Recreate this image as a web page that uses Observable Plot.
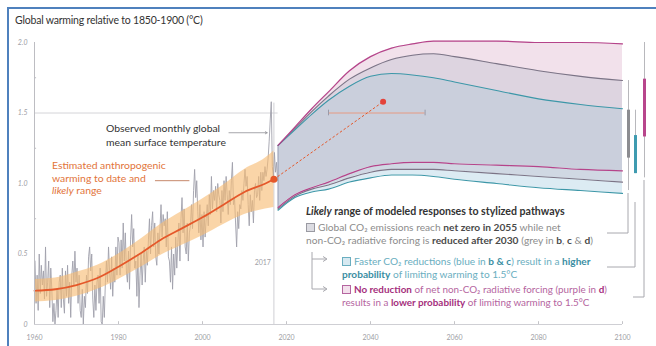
<!DOCTYPE html>
<html><head><meta charset="utf-8">
<script src="https://cdn.jsdelivr.net/npm/d3@7"></script>
<script src="https://cdn.jsdelivr.net/npm/@observablehq/plot@0.6"></script>
<style>
html,body{margin:0;padding:0;background:#fff;}
#wrap{position:relative;width:656px;height:346px;overflow:hidden;font-family:Lato,"Open Sans",sans-serif;}
#chart svg{position:absolute;left:0;top:0;}
#deco{position:absolute;left:0;top:0;}
.frame-top{position:absolute;left:7px;top:7px;width:649px;height:2px;background:#4f81bd;}
.frame-left{position:absolute;left:7px;top:7px;width:2px;height:339px;background:#4f81bd;}
.t{position:absolute;white-space:nowrap;}
.box{display:inline-block;width:7px;height:7px;margin-right:3px;vertical-align:-0.5px;}
</style></head><body>
<div id="wrap">
  <div id="chart"></div>
  <svg id="deco" width="656" height="346"></svg>
  <div class="frame-top"></div><div class="frame-left"></div>
  <div class="t" id="title" style="left:15px;top:14px;font-size:10.5px;color:#333;letter-spacing:-0.2px;">Global warming relative to 1850-1900 (°C)</div>
  <div class="t" style="left:106px;top:121px;font-size:10.4px;line-height:14px;color:#333;">Observed monthly global<br>mean surface temperature</div>
  <div class="t" style="left:52px;top:159px;font-size:10.4px;line-height:12.5px;color:#e2743a;">Estimated anthropogenic<br>warming to date and<br><i>likely</i> range</div>
  <div class="t" style="left:306px;top:205px;font-size:10.6px;font-weight:bold;color:#333;"><i>Likely</i> range of modeled responses to stylized pathways</div>
  <div class="t" style="left:306px;top:221px;font-size:10.2px;line-height:13px;color:#8c8c8c;"><span class="box" style="background:#dcdce2;border:1px solid #9a9aa2;"></span>Global CO₂ emissions reach <b style="color:#4a4a4a">net zero in 2055</b> while net<br>non-CO₂ radiative forcing is <b style="color:#4a4a4a">reduced after 2030</b> (grey in <b style="color:#4a4a4a">b</b>, <b style="color:#4a4a4a">c</b> &amp; <b style="color:#4a4a4a">d</b>)</div>
  <div class="t" style="left:342px;top:255px;font-size:10.1px;line-height:13px;color:#6aaec0;"><span class="box" style="background:#d7e9f1;border:1px solid #6aaec0;"></span>Faster CO₂ reductions (blue in <b style="color:#3b8ea3">b &amp; c</b>) result in a <b style="color:#3b8ea3">higher</b><br><b style="color:#3b8ea3">probability</b> of limiting warming to 1.5°C</div>
  <div class="t" style="left:342px;top:283px;font-size:9.9px;line-height:13px;color:#b565a0;"><span class="box" style="background:#f3e0ec;border:1px solid #b565a0;"></span><b style="color:#a52f7d">No reduction</b> of net non-CO₂ radiative forcing (purple in <b style="color:#a52f7d">d</b>)<br>results in a <b style="color:#a52f7d">lower probability</b> of limiting warming to 1.5°C</div>
</div>
<script>
// ---------- data ----------
const xTicks = [1960, 1980, 2000, 2020, 2040, 2060, 2080, 2100];
const yTicks = [0, 0.5, 1.0, 1.5, 2.0];
const yTickLabels = ["0", "0.5", "1.0", "1.5", "2.0"];

const obsStartYear = 1960;
const obsValues = [
  0.45,0.15,0.35,0.10, 0.50,0.22,0.42,0.28, 0.38,0.18,0.55,0.20, 0.30,0.45,0.12,0.40,
  0.25,0.02,0.15,0.00, 0.10,0.25,0.05,0.30, 0.35,0.12,0.40,0.18, 0.08,0.38,0.20,0.42,
  0.15,0.30,0.05,0.35, 0.45,0.28,0.52,0.30, 0.40,0.15,0.35,0.10, 0.05,0.25,0.00,0.20,
  0.12,0.35,0.22,0.48, 0.55,0.38,0.50,0.18, 0.05,0.28,0.10,0.30, 0.35,0.15,0.40,0.02,
  0.00,0.20,0.05,0.30, 0.45,0.30,0.55,0.38, 0.25,0.48,0.20,0.40, 0.30,0.55,0.35,0.62,
  0.58,0.35,0.60,0.40, 0.72,0.45,0.65,0.38, 0.30,0.52,0.25,0.60, 0.78,0.55,0.68,0.40,
  0.45,0.20,0.50,0.12, 0.35,0.50,0.28,0.45, 0.55,0.30,0.52,0.42, 0.60,0.75,0.50,0.70,
  0.80,0.55,0.72,0.48, 0.42,0.65,0.50,0.68, 0.85,0.62,0.78,0.70, 0.75,0.55,0.80,0.48,
  0.45,0.30,0.55,0.25, 0.50,0.35,0.62,0.40, 0.58,0.72,0.45,0.75, 0.90,0.65,0.82,0.55,
  0.50,0.72,0.45,0.65, 0.70,0.85,0.68,0.95, 1.10,0.90,1.02,0.80, 0.65,0.85,0.60,0.78,
  0.55,0.80,0.62,0.75, 0.85,0.70,0.92,0.78, 1.05,0.82,0.95,0.88, 0.98,0.80,1.00,0.92,
  0.88,0.72,0.95,0.80, 1.02,0.88,1.05,0.92, 0.78,0.95,0.85,1.02, 1.15,0.85,0.90,0.72,
  0.55,0.80,0.68,0.85, 0.82,0.95,0.88,1.00, 1.10,0.98,1.05,0.85, 0.70,0.92,0.80,0.88,
  0.72,0.95,1.00,0.90, 0.92,1.05,0.88,1.08, 0.95,1.08,1.02,1.12, 1.05,1.10,1.18,1.30,
  1.45,1.58,1.12,1.05, 1.22,1.08,1.15,1.02
];

// estimated anthropogenic warming and likely range
const anthroYears = [1960, 1965, 1970, 1975, 1980, 1985, 1990, 1995, 2000, 2005, 2010, 2015, 2017];
const anthroCentral = [0.24, 0.25, 0.28, 0.33, 0.41, 0.50, 0.60, 0.68, 0.76, 0.85, 0.94, 1.00, 1.03];
const anthroLow     = [0.16, 0.17, 0.20, 0.25, 0.32, 0.40, 0.49, 0.56, 0.63, 0.71, 0.78, 0.82, 0.83];
const anthroHigh    = [0.32, 0.33, 0.37, 0.42, 0.50, 0.60, 0.71, 0.80, 0.89, 0.99, 1.10, 1.18, 1.23];

// point where 1.5°C is reached, and its range
const crossYear = 2043, crossValue = 1.58;
const crossRange = [2030, 2053];
const crossLevel = 1.5;

// modeled pathways (likely ranges)
const fanYears   = [2018, 2022, 2026, 2030, 2035, 2040, 2045, 2050, 2055, 2060, 2070, 2080, 2090, 2100];
const purpleTop  = [1.27, 1.40, 1.53, 1.65, 1.80, 1.90, 1.96, 1.99, 2.01, 2.01, 2.01, 2.00, 2.00, 1.99];
const greyTop    = [1.27, 1.39, 1.51, 1.62, 1.74, 1.82, 1.88, 1.91, 1.92, 1.90, 1.85, 1.80, 1.76, 1.73];
const blueTop    = [1.27, 1.38, 1.49, 1.59, 1.69, 1.76, 1.78, 1.77, 1.75, 1.72, 1.66, 1.60, 1.56, 1.53];
const purpleLow  = [0.83, 0.92, 0.97, 1.01, 1.07, 1.12, 1.14, 1.15, 1.15, 1.14, 1.13, 1.12, 1.10, 1.09];
const greyLow    = [0.82, 0.91, 0.96, 0.99, 1.04, 1.08, 1.10, 1.10, 1.10, 1.09, 1.07, 1.05, 1.03, 1.01];
const blueLow    = [0.81, 0.90, 0.94, 0.96, 1.01, 1.04, 1.06, 1.06, 1.05, 1.03, 1.00, 0.97, 0.95, 0.93];

// 2100 range bars
const barNames = ["grey", "blue", "purple"];
const barThinLow   = [0.95, 1.07, 1.04];
const barThinHigh  = [1.73, 1.52, 2.00];
const barThickLow  = [1.18, 1.07, 1.33];
const barThickHigh = [1.52, 1.34, 1.74];

// ---------- build ----------
const obs = obsValues.map((v, i) => ({x: obsStartYear + i / 4 + 0.125, y: v}));
const anthro = anthroYears.map((x, i) => ({x, y: anthroCentral[i], lo: anthroLow[i], hi: anthroHigh[i]}));
const fan = fanYears.map((x, i) => ({x, pt: purpleTop[i], gt: greyTop[i], bt: blueTop[i], pl: purpleLow[i], gl: greyLow[i], bl: blueLow[i]}));
const bars = barNames.map((n, i) => ({n, a: barThinLow[i], b: barThinHigh[i], c: barThickLow[i], d: barThickHigh[i]}));
const lastAnthro = anthro[anthro.length - 1];

const barStyle = {grey: {dx: 6, thick: "#8c8c90"}, blue: {dx: 13, thick: "#3f9bb0"}, purple: {dx: 22, thick: "#b8468c"}};
const barMarks = [];
for (const b of bars) {
  const s = barStyle[b.n];
  barMarks.push(Plot.ruleX([b], {x: () => 2100, y1: "a", y2: "b", dx: s.dx, stroke: "#b8b8bc", strokeWidth: 1}));
  barMarks.push(Plot.ruleX([b], {x: () => 2100, y1: "c", y2: "d", dx: s.dx, stroke: s.thick, strokeWidth: 3}));
}

const curve = "monotone-x";
const chart = Plot.plot({
  width: 656, height: 346,
  marginLeft: 34, marginRight: 34, marginTop: 42, marginBottom: 22,
  x: {type: "linear", domain: [1960, 2100], axis: null},
  y: {type: "linear", domain: [0, 2], axis: null},
  style: {fontFamily: "Lato, sans-serif", background: "transparent"},
  marks: [
    // reference lines
    Plot.ruleY([crossLevel], {x1: 1960, x2: 2018, stroke: "#d4d4d8", strokeWidth: 1}),
    Plot.ruleX([2017], {y1: 0, y2: 1.57, stroke: "#cfcfd4", strokeWidth: 1}),
    // fan regions
    Plot.areaY(fan, {x: "x", y1: "pl", y2: "pt", fill: "#f2e1eb", curve}),
    Plot.areaY(fan, {x: "x", y1: "bt", y2: "gt", fill: "#ddd4e0", curve}),
    Plot.areaY(fan, {x: "x", y1: "pl", y2: "bt", fill: "#cacfdc", curve}),
    Plot.areaY(fan, {x: "x", y1: "gl", y2: "pl", fill: "#d0d8e3", curve}),
    Plot.areaY(fan, {x: "x", y1: "bl", y2: "gl", fill: "#dcebf3", curve}),
    Plot.ruleX([fan[0]], {x: "x", y1: "bl", y2: "pt", stroke: "#9aa3b8", strokeWidth: 1}),
    // fan lines
    Plot.line(fan, {x: "x", y: "gt", stroke: "#7c7486", strokeWidth: 1.1, curve}),
    Plot.line(fan, {x: "x", y: "gl", stroke: "#7c7486", strokeWidth: 1.1, curve}),
    Plot.line(fan, {x: "x", y: "bt", stroke: "#3d97a8", strokeWidth: 1.1, curve}),
    Plot.line(fan, {x: "x", y: "bl", stroke: "#3d97a8", strokeWidth: 1.1, curve}),
    Plot.line(fan, {x: "x", y: "pt", stroke: "#b5448a", strokeWidth: 1.2, curve}),
    Plot.line(fan, {x: "x", y: "pl", stroke: "#b5448a", strokeWidth: 1.2, curve}),
    // observed
    Plot.line(obs, {x: "x", y: "y", stroke: "#a0a0ab", strokeWidth: 0.9}),
    // anthropogenic band and line
    Plot.areaY(anthro, {x: "x", y1: "lo", y2: "hi", fill: "#f7bb72", fillOpacity: 0.62, curve}),
    Plot.line(anthro, {x: "x", y: "y", stroke: "#e5582a", strokeWidth: 1.8, curve}),
    // path to 1.5
    Plot.ruleY([crossLevel], {x1: crossRange[0], x2: crossRange[1], stroke: "#e69a82", strokeWidth: 1}),
    Plot.ruleX(crossRange, {x: d => d, y1: () => crossLevel - 0.02, y2: () => crossLevel + 0.02, stroke: "#9a9aa8", strokeWidth: 1}),
    Plot.link([{x1: lastAnthro.x, y1: lastAnthro.y, x2: crossYear, y2: crossValue}], {x1: "x1", y1: "y1", x2: "x2", y2: "y2", stroke: "#e5582a", strokeWidth: 1, strokeDasharray: "2.5,2"}),
    Plot.dot([lastAnthro], {x: "x", y: "y", r: 3.5, fill: "#e5582a"}),
    Plot.dot([{x: crossYear, y: crossValue}], {x: "x", y: "y", r: 3, fill: "#e4433a"}),
    // 2100 bars
    ...barMarks,
    // axes
    Plot.ruleX([1960], {y1: 0, y2: 2, stroke: "#bdbdc2", strokeWidth: 1}),
    Plot.ruleY([0], {x1: 1960, x2: 2100, stroke: "#cfcfd4", strokeWidth: 1}),
    Plot.ruleY([0.25, 0.75, 1.25, 1.75], {x1: 1960, x2: 1960.5, stroke: "#bdbdc2"}),
    Plot.ruleX(xTicks.slice(1), {y1: 0, y2: 0.02, stroke: "#c4c4c8"}),
    Plot.text(xTicks, {x: d => d, y: () => 0, dy: 13, text: d => String(d), fill: "#a0a0a6", fontSize: 7}),
    Plot.text(yTicks, {x: () => 1960, y: d => d, dx: -7, text: (d, i) => yTickLabels[i], textAnchor: "end", fill: "#a0a0a6", fontSize: 7, fontStyle: "italic"}),
    Plot.text([2017], {x: d => d, y: () => 0.44, dx: -3, text: d => String(d), textAnchor: "end", fill: "#a0a0a6", fontSize: 7}),
    // annotation leaders
    Plot.arrow([{x1: 2006.3, x2: 2015.4, y: 1.36}], {x1: "x1", x2: "x2", y1: "y", y2: "y", stroke: "#8f8f96", strokeWidth: 0.8, headLength: 4}),
    Plot.ruleY([1.02], {x1: 1988.8, x2: 1997, stroke: "#c07a5a", strokeWidth: 0.9})
  ]
});
document.getElementById("chart").appendChild(chart);

// decorative brackets linking the 2100 bars and the legend
const deco = d3.select("#deco");
const g = "#a8a8ae";
const seg = (x1, y1, x2, y2, c) => deco.append("line").attr("x1", x1).attr("y1", y1).attr("x2", x2).attr("y2", y2).attr("stroke", c || g).attr("stroke-width", 1);
seg(628, 193, 628, 233); seg(607, 233, 628, 233);
seg(635, 202, 635, 267); seg(607, 267, 635, 267);
seg(644, 180, 644, 297); seg(633, 297, 644, 297);
seg(312, 252, 312, 289);
seg(312, 259, 326, 259); seg(312, 289, 326, 289);
deco.append("path").attr("d", "M323,256.5 L327,259 L323,261.5").attr("fill", "none").attr("stroke", g);
deco.append("path").attr("d", "M323,286.5 L327,289 L323,291.5").attr("fill", "none").attr("stroke", g);
</script>
</body></html>
